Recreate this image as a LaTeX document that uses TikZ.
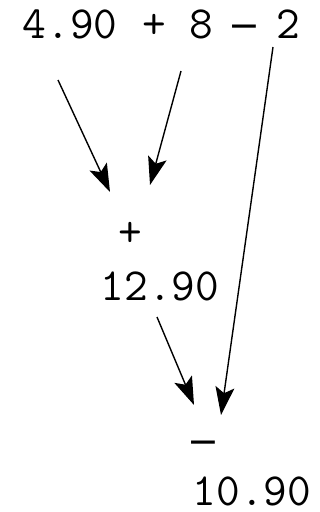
\documentclass[tikz,border=0pt]{standalone}
\usepackage{fontspec}
\newfontfamily\symfont{DejaVu Sans}
\usetikzlibrary{arrows.meta}
\begin{document}
\begin{tikzpicture}[x=1pt,y=-1pt,
  lbl/.style={font=\ttfamily\fontsize{46}{46}\selectfont, inner sep=0pt, anchor=base},
  op/.style={font=\symfont\fontsize{38}{38}\selectfont, inner sep=0pt, anchor=base},
  arr/.style={-{Stealth[length=28pt,width=19pt,inset=6pt]}, line width=1.4pt}]
\useasboundingbox (0,0) rectangle (320,512);
% top row
\node[lbl] (n1) at (70,38) {4.90};
\node[lbl] (p1) at (154,38) {+};
\node[lbl] (n2) at (201,38) {8};
\node[op]  (m1) at (244,38) {−};
\node[lbl] (n3) at (288,38) {2};
% middle
\node[lbl] (plus) at (130,246) {+};
\node[lbl] (r1) at (160,300) {12.90};
% bottom
\node[op]  (minus) at (203,454) {−};
\node[lbl] (r2) at (252,505) {10.90};
% connector ends
\coordinate (s1) at (58,80);  \coordinate (e1) at (110,192);
\coordinate (s2) at (181,71); \coordinate (e2) at (150,185);
\coordinate (s3) at (273,47); \coordinate (e3) at (221,415);
\coordinate (s4) at (157,317);\coordinate (e4) at (194,405);
\draw[arr] (s1) -- (e1);
\draw[arr] (s2) -- (e2);
\draw[arr] (s3) -- (e3);
\draw[arr] (s4) -- (e4);
\end{tikzpicture}
\end{document}
